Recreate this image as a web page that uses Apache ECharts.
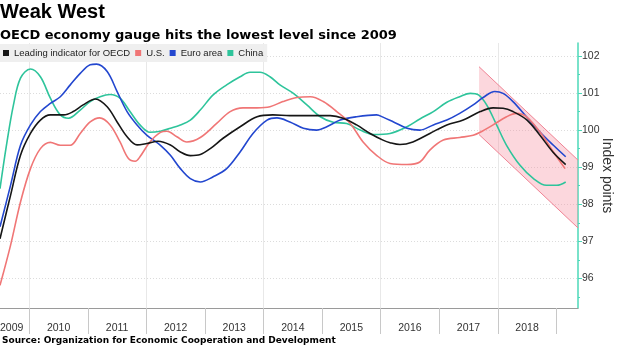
<!DOCTYPE html>
<html>
<head>
<meta charset="utf-8">
<script src="https://cdn.jsdelivr.net/npm/echarts@6/dist/echarts.min.js"></script>
<style>
  html, body { margin: 0; padding: 0; background: #fff; }
  #chart { width: 620px; height: 348px; }
</style>
</head>
<body>
<div id="chart"></div>
<script>
// series names (legend order)
var names = ['Leading indicator for OECD', 'U.S.', 'Euro area', 'China'];

// [decimal year, index points]
var oecd = [[2009.5,97.07],[2009.68,98.24],[2009.85,99.32],[2010.02,99.91],[2010.19,100.27],[2010.36,100.41],[2010.59,100.41],[2010.75,100.5],[2010.92,100.68],[2011.13,100.84],[2011.33,100.63],[2011.5,100.22],[2011.67,99.82],[2011.84,99.6],[2012.01,99.64],[2012.2,99.7],[2012.41,99.6],[2012.58,99.41],[2012.75,99.31],[2012.92,99.34],[2013.09,99.5],[2013.31,99.78],[2013.6,100.09],[2013.89,100.36],[2014.16,100.41],[2014.45,100.39],[2014.74,100.39],[2015.14,100.39],[2015.36,100.32],[2015.59,100.14],[2015.82,99.91],[2016.04,99.73],[2016.16,99.66],[2016.33,99.61],[2016.55,99.68],[2016.84,99.91],[2017.13,100.14],[2017.41,100.27],[2017.7,100.5],[2017.92,100.6],[2018.09,100.59],[2018.26,100.5],[2018.5,100.27],[2018.72,99.86],[2018.94,99.41],[2019.16,99.07]];

var us = [[2009.5,95.81],[2009.68,96.89],[2009.85,98.06],[2010.02,98.96],[2010.19,99.5],[2010.36,99.67],[2010.53,99.59],[2010.7,99.59],[2010.87,99.91],[2011.04,100.22],[2011.2,100.33],[2011.38,100.14],[2011.55,99.68],[2011.69,99.24],[2011.81,99.16],[2011.89,99.28],[2012.06,99.68],[2012.24,99.94],[2012.35,99.97],[2012.52,99.82],[2012.69,99.68],[2012.92,99.8],[2013.2,100.18],[2013.43,100.5],[2013.65,100.6],[2013.89,100.6],[2014.11,100.63],[2014.33,100.77],[2014.57,100.88],[2014.8,100.9],[2015.02,100.77],[2015.25,100.5],[2015.48,100.18],[2015.7,99.68],[2015.93,99.32],[2016.16,99.1],[2016.45,99.07],[2016.67,99.14],[2016.84,99.46],[2017.07,99.73],[2017.35,99.8],[2017.58,99.86],[2017.7,99.94],[2017.92,100.14],[2018.15,100.36],[2018.32,100.45],[2018.49,100.36],[2018.72,99.95],[2018.95,99.41],[2019.15,98.96]];

var euro = [[2009.5,97.39],[2009.68,98.51],[2009.85,99.59],[2010.02,100.14],[2010.19,100.5],[2010.36,100.72],[2010.53,100.9],[2010.7,101.22],[2010.87,101.53],[2011.04,101.76],[2011.15,101.78],[2011.33,101.58],[2011.5,101.04],[2011.67,100.5],[2011.84,100.14],[2012.01,99.86],[2012.24,99.59],[2012.41,99.32],[2012.58,98.96],[2012.75,98.69],[2012.92,98.6],[2013.14,98.74],[2013.37,98.96],[2013.6,99.41],[2013.82,99.91],[2014.06,100.27],[2014.23,100.33],[2014.45,100.22],[2014.68,100.05],[2014.91,100],[2015.08,100.09],[2015.31,100.27],[2015.59,100.36],[2015.93,100.41],[2016.04,100.35],[2016.22,100.22],[2016.45,100.05],[2016.67,100],[2016.9,100.14],[2017.13,100.27],[2017.35,100.45],[2017.58,100.68],[2017.75,100.88],[2017.95,101.04],[2018.09,100.99],[2018.26,100.77],[2018.49,100.36],[2018.72,99.95],[2018.95,99.59],[2019.16,99.28]];

var china = [[2009.5,98.42],[2009.61,99.59],[2009.73,100.68],[2009.85,101.4],[2010.02,101.65],[2010.19,101.44],[2010.36,100.86],[2010.53,100.41],[2010.67,100.32],[2010.87,100.54],[2011.04,100.77],[2011.21,100.9],[2011.38,100.96],[2011.55,100.86],[2011.72,100.5],[2011.89,100.14],[2012.06,99.94],[2012.24,99.97],[2012.41,100.05],[2012.58,100.14],[2012.75,100.27],[2012.92,100.54],[2013.14,100.95],[2013.37,101.22],[2013.6,101.44],[2013.77,101.56],[2013.94,101.56],[2014.11,101.44],[2014.28,101.22],[2014.51,100.99],[2014.74,100.68],[2014.97,100.36],[2015.19,100.21],[2015.42,100.18],[2015.65,100],[2015.88,99.88],[2016.16,99.91],[2016.45,100.09],[2016.67,100.3],[2016.9,100.5],[2017.13,100.75],[2017.35,100.9],[2017.53,100.99],[2017.67,100.95],[2017.81,100.68],[2017.98,100.14],[2018.15,99.59],[2018.38,99.05],[2018.61,98.69],[2018.83,98.51],[2019.01,98.51],[2019.16,98.6]];

// shaded downtrend band
var bandX = [2017.68, 2019.37];
var bandTop = [101.71, 99.19];
var bandBottom = [99.88, 97.36];

// axes
var xMin = 2009.5, xMax = 2019.37;
var yMin = 95.2, yMax = 102.35;
var yearTicks = [2010, 2011, 2012, 2013, 2014, 2015, 2016, 2017, 2018, 2019];
var yearLabels = [2009, 2010, 2011, 2012, 2013, 2014, 2015, 2016, 2017, 2018];
var gridYears = [2010, 2012, 2014, 2016, 2018];
var yTicks = [96, 97, 98, 99, 100, 101, 102];
var yMinorTicks = [95.5, 96.5, 97.5, 98.5, 99.5, 100.5, 101.5];

var colors = ['#161616', '#f07676', '#2347cf', '#2ec49b'];
var teal = '#4dd8b9';
var txtFont = 'Liberation Sans';

var myChart = echarts.init(document.getElementById('chart'), null, {renderer: 'canvas'});

function lineSeries(name, data, color, z) {
  return {
    name: name,
    type: 'line',
    data: data,
    smooth: 0.35,
    showSymbol: false,
    symbol: 'none',
    z: z,
    lineStyle: { color: color, width: 1.6 },
    itemStyle: { color: color }
  };
}

var option = {
  animation: false,
  backgroundColor: '#fff',
  title: [
    { text: 'Weak West', left: 0, top: 2, padding: 0,
      textStyle: { fontFamily: txtFont, fontWeight: 'bold', fontSize: 20, color: '#000' } },
    { text: 'OECD economy gauge hits the lowest level since 2009', left: 0, top: 29, padding: 0,
      textStyle: { fontFamily: 'DejaVu Sans', fontWeight: 'bold', fontSize: 13, color: '#000' } },
    { text: 'Source: Organization for Economic Cooperation and Development', left: 2, top: 336, padding: 0,
      textStyle: { fontFamily: 'DejaVu Sans', fontWeight: 'bold', fontSize: 9, color: '#000' } }
  ],
  legend: {
    data: names,
    left: 0, top: 44,
    padding: [4, 4, 4, 3],
    itemWidth: 6, itemHeight: 6, itemGap: 5,
    icon: 'rect',
    backgroundColor: 'rgba(238,238,238,0.92)',
    textStyle: { fontFamily: txtFont, fontSize: 9.5, color: '#222' }
  },
  grid: { left: 0, right: 42, top: 43, bottom: 40, containLabel: false, outerBoundsMode: 'none' },
  xAxis: [
    {
      type: 'value', min: xMin, max: xMax, position: 'bottom',
      axisLine: { show: true, lineStyle: { color: '#9a9a9a', width: 1 } },
      axisTick: { show: true, customValues: yearTicks, length: 26, lineStyle: { color: '#c8c8c8' } },
      axisLabel: {
        customValues: yearLabels.map(function (y) { return y + 0.5; }),
        formatter: function (v) { return String(Math.floor(v)); },
        alignMinLabel: 'left',
        margin: 15, fontFamily: txtFont, fontSize: 10.5, color: '#333'
      },
      splitLine: { show: false }
    },
    {
      type: 'value', min: xMin, max: xMax, position: 'bottom',
      axisLine: { show: false },
      axisTick: { show: false, customValues: gridYears },
      axisLabel: { show: false },
      splitLine: { show: true, lineStyle: { color: '#e8e8e8', width: 1 } }
    }
  ],
  yAxis: [
    {
      type: 'value', min: yMin, max: yMax, position: 'right',
      name: 'Index points', nameLocation: 'middle', nameRotate: -90, nameGap: 22,
      nameMoveOverlap: false,
      nameTextStyle: { fontFamily: txtFont, fontSize: 14, color: '#333' },
      axisLine: { show: true, lineStyle: { color: teal, width: 1.5 } },
      axisTick: { show: true, customValues: yTicks, length: 4, inside: false, lineStyle: { color: teal } },
      axisLabel: {
        customValues: yTicks, margin: 4,
        fontFamily: txtFont, fontSize: 10.5, color: '#333'
      },
      splitLine: { show: true, lineStyle: { color: '#dcdcdc', type: [1, 2], width: 1 } }
    },
    {
      type: 'value', min: yMin, max: yMax, position: 'right',
      axisLine: { show: false },
      axisTick: { show: true, customValues: yMinorTicks, length: 2, lineStyle: { color: teal } },
      axisLabel: { show: false },
      splitLine: { show: false }
    }
  ],
  series: [
    {
      type: 'custom',
      name: 'band',
      z: 1,
      silent: true,
      clip: true,
      data: [0],
      renderItem: function (params, api) {
        var tl = api.coord([bandX[0], bandTop[0]]);
        var tr = api.coord([bandX[1], bandTop[1]]);
        var br = api.coord([bandX[1], bandBottom[1]]);
        var bl = api.coord([bandX[0], bandBottom[0]]);
        return {
          type: 'group',
          children: [
            { type: 'polygon', shape: { points: [tl, tr, br, bl] },
              style: { fill: 'rgba(245,140,158,0.35)' } },
            { type: 'polyline', shape: { points: [tl, tr] },
              style: { stroke: '#f08394', lineWidth: 1, fill: null } },
            { type: 'polyline', shape: { points: [bl, br] },
              style: { stroke: '#f08394', lineWidth: 1, fill: null } }
          ]
        };
      }
    },
    lineSeries(names[3], china, colors[3], 3),
    lineSeries(names[2], euro, colors[2], 4),
    lineSeries(names[1], us, colors[1], 5),
    lineSeries(names[0], oecd, colors[0], 6)
  ]
};

myChart.setOption(option);
</script>
</body>
</html>
